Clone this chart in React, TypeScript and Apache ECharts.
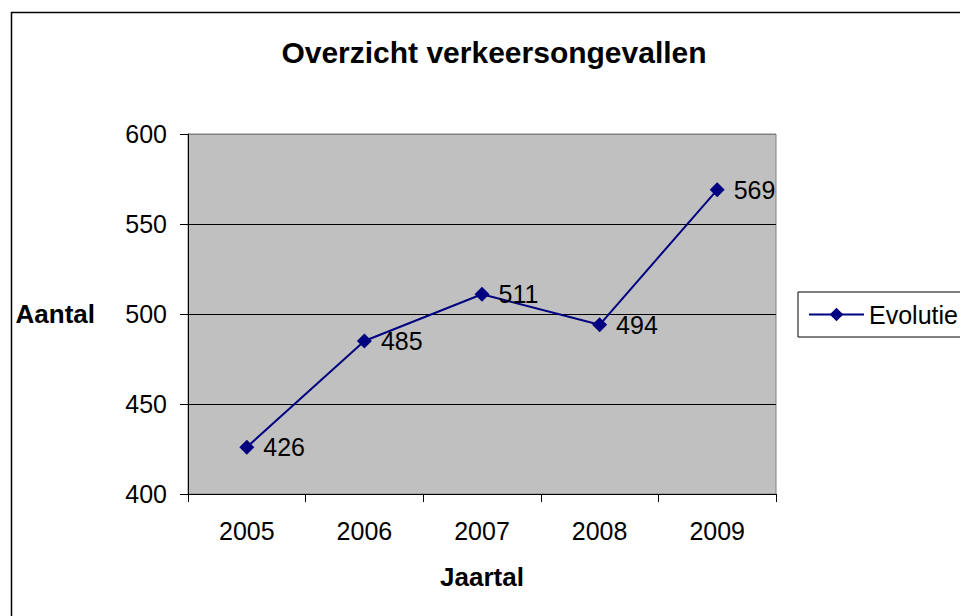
import React, { useEffect, useRef } from "react";
import * as echarts from "echarts";

const years = ["2005", "2006", "2007", "2008", "2009"];
const evolutie = [426, 485, 511, 494, 569];
const yMin = 400;
const yMax = 600;
const yStep = 50;

const FONT = '"Liberation Sans", Arial, sans-serif';

export default function App() {
  const ref = useRef<HTMLDivElement>(null);
  useEffect(() => {
    if (!ref.current) return;
    const chart = echarts.init(ref.current, undefined, { renderer: "svg" });
    chart.setOption({
      animation: false,
      backgroundColor: "#ffffff",
      textStyle: { fontFamily: FONT },
      title: {
        text: "Overzicht verkeersongevallen",
        left: 494,
        top: 37,
        textAlign: "center",
        padding: 0,
        textStyle: { fontFamily: FONT, fontSize: 30, fontWeight: "bold", color: "#000" },
      },
      legend: {
        data: ["Evolutie"],
        left: 798,
        top: 292,
        orient: "vertical",
        padding: [10, 10, 10, 10],
        itemWidth: 55,
        itemHeight: 17,
        borderColor: "#000",
        borderWidth: 1,
        backgroundColor: "#fff",
        textStyle: { fontFamily: FONT, fontSize: 25, color: "#000" },
      },
      grid: {
        left: 188,
        right: 184,
        top: 134,
        bottom: 122,
        show: true,
        backgroundColor: "#C0C0C0",
        borderColor: "#808080",
        borderWidth: 1,
        containLabel: false,
      },
      xAxis: {
        type: "category",
        data: years,
        boundaryGap: true,
        name: "Jaartal",
        nameLocation: "middle",
        nameGap: 70,
        nameTextStyle: { fontFamily: FONT, fontSize: 26, fontWeight: "bold", color: "#000" },
        axisLine: { show: true, lineStyle: { color: "#000", width: 1 } },
        axisTick: { show: true, interval: 0, length: 8, lineStyle: { color: "#000" } },
        axisLabel: { interval: 0, margin: 24, fontFamily: FONT, fontSize: 25, color: "#000" },
        splitLine: { show: false },
      },
      yAxis: {
        type: "value",
        min: yMin,
        max: yMax,
        interval: yStep,
        name: "Aantal",
        nameLocation: "middle",
        nameRotate: 0,
        nameGap: 93,
        nameTextStyle: { fontFamily: FONT, fontSize: 26, fontWeight: "bold", color: "#000" },
        axisLine: { show: true, lineStyle: { color: "#000", width: 1 } },
        axisTick: { show: true, length: 8, lineStyle: { color: "#000" } },
        axisLabel: { margin: 21, fontFamily: FONT, fontSize: 25, color: "#000" },
        splitLine: {
          show: true,
          lineStyle: { color: ["#000", "#000", "#000", "#000", "#808080"], width: 1 },
        },
      },
      series: [
        {
          name: "Evolutie",
          type: "line",
          data: evolutie,
          symbol: "diamond",
          symbolSize: 15,
          showAllSymbol: true,
          lineStyle: { color: "#000080", width: 2 },
          itemStyle: { color: "#000080" },
          label: {
            show: true,
            position: "right",
            distance: 9,
            fontFamily: FONT,
            fontSize: 25,
            color: "#000",
          },
        },
      ],
      graphic: [
        {
          type: "rect",
          shape: { x: 11.5, y: 12.5, width: 2000, height: 2000 },
          style: { fill: "none", stroke: "#000", lineWidth: 1.5 },
          silent: true,
          z: 100,
        },
      ],
    });
    return () => chart.dispose();
  }, []);
  return (
    <div
      ref={ref}
      style={{ position: "absolute", left: 0, top: 0, width: 960, height: 616 }}
    />
  );
}
